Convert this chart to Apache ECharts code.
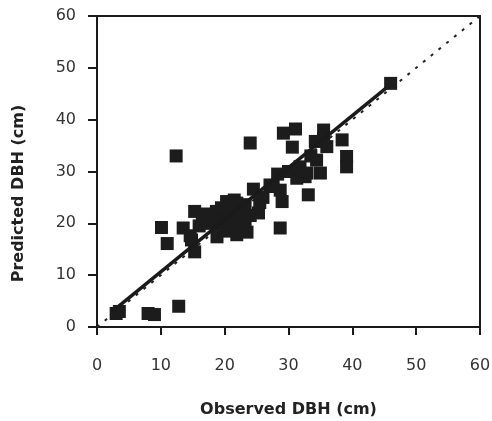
<!DOCTYPE html>
<html>
<head>
<meta charset="utf-8">
<script src="https://cdn.jsdelivr.net/npm/echarts@6/dist/echarts.min.js"></script>
<style>html,body{margin:0;padding:0;background:#fff;}#c{width:492px;height:421px;}</style>
</head>
<body>
<div id="c"></div>
<script>
var observed = [3.0,3.5,8.0,9.0,12.8,10.1,11.0,12.4,13.5,14.8,15.3,15.3,14.6,16.0,16.5,17.5,18.7,18.8,19.0,19.5,20.3,20.0,20.5,21.0,21.5,21.9,21.9,22.5,23.2,23.2,23.5,24.0,24.5,25.3,25.5,24.0,27.1,27.6,28.3,28.7,28.7,29.0,29.2,31.1,30.6,31.8,32.6,31.3,33.1,32.9,35.0,34.4,34.2,35.5,36.0,38.4,39.1,39.1,46.0,17.0,22.0,20.8,18.0,26.0,30.0,33.5,35.5,21.5,19.5,23.0];
var predicted = [2.6,3.0,2.6,2.4,4.0,19.2,16.1,33.0,19.1,16.8,14.5,22.3,17.6,19.5,21.0,20.0,22.3,17.4,19.8,21.5,24.2,18.5,20.5,22.5,19.0,23.9,17.8,21.0,23.6,19.4,18.3,21.5,26.6,22.0,24.0,35.5,27.4,27.1,29.5,26.4,19.1,24.2,37.4,38.2,34.7,30.9,29.0,28.7,25.5,29.7,29.7,32.2,35.8,38.0,34.8,36.1,32.9,30.9,47.0,21.8,20.8,22.0,20.8,25.0,30.0,33.0,36.5,24.5,23.0,22.0];
var regressionX = [2.5, 46];
var regressionY = [3.1, 46.8];
var identityX = [0, 60];
var identityY = [0, 60];

var pts = observed.map(function(v,i){return [v, predicted[i]];});
var reg = regressionX.map(function(v,i){return [v, regressionY[i]];});
var idl = identityX.map(function(v,i){return [v, identityY[i]];});

var chart = echarts.init(document.getElementById('c'), null, {renderer:'canvas'});
var axisLabel = {color:'#333', fontSize:16, fontFamily:'DejaVu Sans'};
var titleStyle = {fontFamily:'DejaVu Sans', fontWeight:'bold', fontSize:16, color:'#222'};
chart.setOption({
  animation:false,
  grid:{left:97, right:12, top:16, bottom:94, show:true, borderColor:'#1a1a1a', borderWidth:2,
    containLabel:false, outerBoundsMode:'none'},
  xAxis:{type:'value', min:0, max:60, interval:10,
    name:'Observed DBH (cm)', nameLocation:'middle', nameGap:75,
    nameTextStyle:titleStyle,
    axisLine:{show:true, onZero:false, lineStyle:{color:'#1a1a1a', width:2}},
    axisTick:{show:true, length:8, lineStyle:{color:'#1a1a1a', width:2}},
    axisLabel:Object.assign({margin:31}, axisLabel),
    splitLine:{show:false}},
  yAxis:{type:'value', min:0, max:60, interval:10,
    name:'Predicted DBH (cm)', nameLocation:'middle', nameGap:70, nameRotate:90,
    nameTextStyle:Object.assign({padding:[0,44,0,0]}, titleStyle),
    axisLine:{show:true, onZero:false, lineStyle:{color:'#1a1a1a', width:2}},
    axisTick:{show:true, length:9, lineStyle:{color:'#1a1a1a', width:2}},
    axisLabel:Object.assign({margin:21}, axisLabel),
    splitLine:{show:false}},
  series:[
    {type:'line', data:idl, symbol:'none', z:1,
      lineStyle:{color:'#222', width:2, type:[3,7]}},
    {type:'scatter', data:pts, symbol:'rect', symbolSize:13, z:2,
      itemStyle:{color:'#1c1c1c', opacity:1}},
    {type:'line', data:reg, symbol:'none', z:3,
      lineStyle:{color:'#1a1a1a', width:3.5}}
  ]
});
</script>
</body>
</html>
